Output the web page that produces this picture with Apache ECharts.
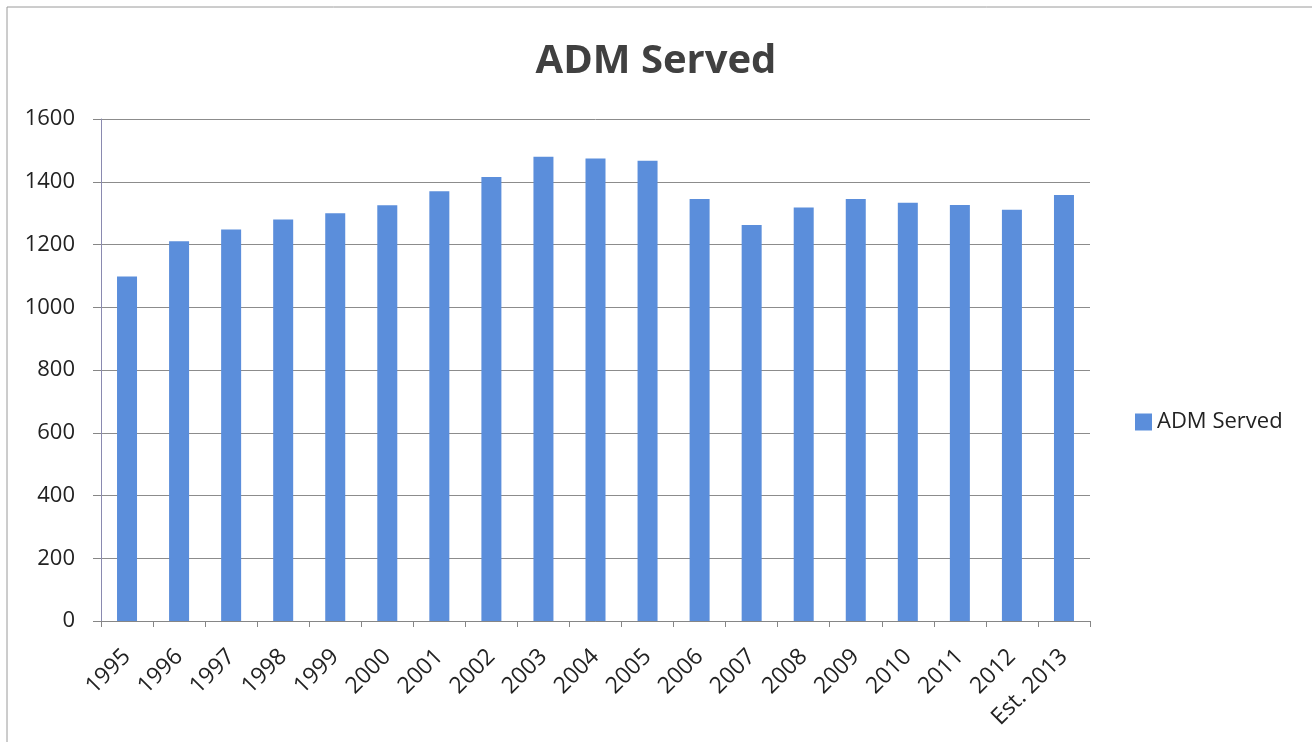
<!DOCTYPE html>
<html>
<head>
<meta charset="utf-8">
<script src="https://cdn.jsdelivr.net/npm/echarts@6/dist/echarts.min.js"></script>
<style>
  html, body { margin: 0; padding: 0; background: #fff; }
  #chart { width: 1312px; height: 742px; }
</style>
</head>
<body>
<div id="chart"></div>
<script>
// ADM served per year
const years = ['1995', '1996', '1997', '1998', '1999', '2000', '2001', '2002', '2003', '2004',
  '2005', '2006', '2007', '2008', '2009', '2010', '2011', '2012', 'Est. 2013'];
const admServed = [1098, 1210, 1248, 1280, 1300, 1325, 1370, 1415, 1480, 1474,
  1467, 1345, 1262, 1318, 1345, 1333, 1326, 1311, 1358];
const yTicks = [0, 200, 400, 600, 800, 1000, 1200, 1400, 1600];

const chart = echarts.init(document.getElementById('chart'));
const font = '"Open Sans", "Noto Sans", sans-serif';

chart.setOption({
  animation: false,
  textStyle: { fontFamily: font },
  title: {
    text: 'ADM Served',
    left: 'center',
    top: 37,
    textStyle: { fontSize: 40, fontWeight: 'bold', color: '#404040', fontFamily: font }
  },
  legend: {
    orient: 'vertical',
    left: 1130,
    top: 406,
    itemWidth: 17,
    itemHeight: 17,
    itemGap: 6,
    icon: 'rect',
    textStyle: { fontSize: 22, color: '#222', fontFamily: font },
    data: ['ADM Served']
  },
  graphic: [{
    type: 'rect',
    shape: { x: 7, y: 7, width: 1330, height: 760 },
    style: { fill: 'none', stroke: '#9a9a9a', lineWidth: 1 },
    silent: true
  }],
  grid: { left: 101, right: 222, top: 119, bottom: 121 },
  xAxis: {
    type: 'category',
    data: years,
    axisLine: { lineStyle: { color: '#868686' } },
    axisTick: { show: true, length: 6, lineStyle: { color: '#868686' } },
    axisLabel: { rotate: 45, fontSize: 23, color: '#222', margin: 32, interval: 0 }
  },
  yAxis: {
    type: 'value',
    min: yTicks[0],
    max: yTicks[yTicks.length - 1],
    interval: 200,
    axisLine: { show: true, lineStyle: { color: '#8a8ab0' } },
    axisTick: { show: true, length: 8, lineStyle: { color: '#868686' } },
    axisLabel: { fontSize: 22, color: '#222', margin: 26, formatter: v => String(v) },
    splitLine: { lineStyle: { color: '#8c8c8c', width: 1 } }
  },
  series: [{
    name: 'ADM Served',
    type: 'bar',
    data: admServed,
    barWidth: 20,
    itemStyle: { color: '#5b8edb' }
  }]
});
</script>
</body>
</html>
